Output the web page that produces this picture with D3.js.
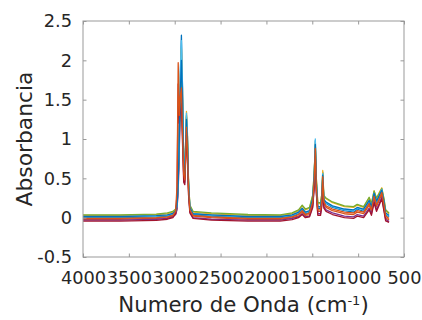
<!DOCTYPE html>
<html>
<head>
<meta charset="utf-8">
<script src="https://cdn.jsdelivr.net/npm/d3@7"></script>
<style>
  html, body { margin: 0; padding: 0; background: #fff; }
  svg { display: block; }
  text { font-family: "DejaVu Sans", "Liberation Sans", Arial, sans-serif; fill: #262626; }
</style>
</head>
<body>
<svg id="chart" width="422" height="320"></svg>
<script>
// Wavenumbers (cm-1) at which the spectra were read
const wavenumbers = [4000,3600,3200,3080,3020,2990,2975,2962,2950,2938,2927,2915,2902,2890,2880,2872,2862,2850,2835,2800,2600,2200,1850,1720,1650,1610,1575,1530,1495,1478,1467,1456,1440,1410,1396,1386,1374,1350,1280,1150,1050,1010,940,880,855,826,800,770,742,718,700,663];

// Absorbance spectra (one array per sample)
const spectrum1 = [0.00,0.00,0.01,0.02,0.04,0.07,0.14,0.45,1.10,1.85,2.32,1.65,0.70,0.55,0.95,1.30,1.05,0.45,0.12,0.04,0.02,0.00,0.00,0.02,0.05,0.10,0.05,0.07,0.22,0.55,0.98,0.45,0.12,0.12,0.25,0.58,0.22,0.18,0.13,0.09,0.07,0.11,0.08,0.20,0.12,0.30,0.19,0.28,0.35,0.18,0.04,0.01];
const spectrum2 = [-0.02,-0.02,-0.01,0.00,0.02,0.05,0.12,0.38,0.90,1.45,1.75,1.30,0.60,0.50,0.85,1.20,0.95,0.40,0.10,0.02,0.00,-0.02,-0.02,0.00,0.02,0.07,0.03,0.04,0.18,0.47,0.85,0.38,0.08,0.08,0.20,0.50,0.18,0.13,0.09,0.05,0.04,0.07,0.05,0.16,0.08,0.25,0.14,0.22,0.30,0.13,0.00,-0.03];
const spectrum3 = [0.03,0.03,0.04,0.05,0.07,0.10,0.18,0.50,1.15,1.80,2.15,1.60,0.72,0.60,1.00,1.35,1.10,0.50,0.15,0.07,0.05,0.03,0.03,0.05,0.09,0.15,0.10,0.12,0.28,0.60,0.95,0.50,0.18,0.18,0.30,0.60,0.28,0.24,0.19,0.14,0.13,0.16,0.13,0.25,0.17,0.34,0.24,0.32,0.38,0.23,0.09,0.05];
const spectrum4 = [-0.03,-0.03,-0.02,-0.01,0.01,0.04,0.10,0.35,0.85,1.60,1.50,1.05,0.50,0.45,0.80,1.10,0.85,0.35,0.08,0.00,-0.02,-0.03,-0.03,-0.01,0.01,0.05,0.01,0.02,0.15,0.42,0.80,0.33,0.05,0.05,0.17,0.47,0.14,0.10,0.06,0.02,0.01,0.04,0.02,0.12,0.05,0.21,0.10,0.18,0.26,0.10,-0.02,-0.05];
const spectrum5 = [0.035,0.035,0.045,0.06,0.08,0.11,0.19,0.48,1.05,1.60,1.90,1.45,0.68,0.58,0.95,1.28,1.05,0.48,0.16,0.08,0.06,0.04,0.035,0.06,0.10,0.16,0.11,0.13,0.29,0.60,0.92,0.50,0.19,0.19,0.30,0.56,0.28,0.25,0.20,0.15,0.14,0.17,0.14,0.26,0.18,0.34,0.25,0.31,0.37,0.24,0.10,0.06];
const spectrum6 = [0.01,0.01,0.02,0.03,0.05,0.08,0.15,0.46,1.12,1.88,2.25,1.66,0.72,0.57,0.98,1.33,1.08,0.47,0.13,0.05,0.03,0.01,0.01,0.03,0.06,0.11,0.06,0.08,0.23,0.56,1.00,0.46,0.13,0.13,0.26,0.56,0.23,0.19,0.14,0.10,0.09,0.12,0.10,0.21,0.13,0.31,0.20,0.28,0.36,0.19,0.05,0.02];
const spectrum7 = [-0.045,-0.045,-0.035,-0.02,0.00,0.05,0.30,1.70,1.20,1.35,1.45,0.95,0.45,0.42,0.75,1.05,0.80,0.30,0.06,-0.01,-0.03,-0.045,-0.045,-0.025,0.00,0.04,0.00,0.01,0.13,0.40,0.78,0.31,0.03,0.03,0.15,0.45,0.12,0.08,0.04,0.00,-0.01,0.02,0.00,0.10,0.03,0.19,0.08,0.16,0.24,0.08,-0.04,-0.06];
const spectrum8 = [0.015,0.015,0.025,0.035,0.055,0.085,0.16,0.44,1.00,1.62,2.00,1.50,0.66,0.54,0.92,1.25,1.00,0.44,0.13,0.05,0.035,0.015,0.015,0.035,0.07,0.12,0.07,0.09,0.24,0.55,0.93,0.44,0.14,0.14,0.26,0.54,0.23,0.20,0.15,0.11,0.10,0.13,0.11,0.22,0.14,0.31,0.21,0.28,0.35,0.20,0.06,0.03];
const spectrum9 = [-0.01,-0.01,0.00,0.01,0.03,0.08,0.40,1.97,1.30,1.55,1.65,1.10,0.55,0.48,0.82,1.15,0.90,0.38,0.10,0.03,0.01,-0.01,-0.01,0.01,0.04,0.09,0.04,0.06,0.20,0.50,0.88,0.40,0.10,0.10,0.22,0.52,0.20,0.15,0.11,0.07,0.06,0.09,0.07,0.18,0.10,0.27,0.16,0.24,0.32,0.16,0.02,-0.01];

const spectra = [spectrum1, spectrum2, spectrum3, spectrum4, spectrum5, spectrum6, spectrum7, spectrum8, spectrum9];
const colors = ["#0072BD","#D95319","#EDB120","#7E2F8E","#77AC30","#4DBEEE","#A2142F","#0072BD","#D95319"];

const xTicks = [4000,3500,3000,2500,2000,1500,1000,500];
const yTicks = [-0.5,0,0.5,1,1.5,2,2.5];
const yTickLabels = ["-0.5","0","0.5","1","1.5","2","2.5"];

const svg = d3.select("#chart");
const L = 83, R = 404, T = 21, B = 257;

const x = d3.scaleLinear().domain([4000, 500]).range([L, R]);
const y = d3.scaleLinear().domain([-0.5, 2.5]).range([B, T]);

const axisColor = "#999";
const tickLen = 3.5;

svg.append("defs").append("clipPath").attr("id","clip")
  .append("rect").attr("x", L).attr("y", T).attr("width", R - L).attr("height", B - T);

const line = d3.line().x((d, i) => x(wavenumbers[i])).y(d => y(d));
const g = svg.append("g").attr("clip-path", "url(#clip)");
spectra.forEach((s, k) => {
  g.append("path").datum(s)
    .attr("d", line)
    .attr("fill", "none")
    .attr("stroke", colors[k])
    .attr("stroke-width", 1.3)
    .attr("stroke-linejoin", "round");
});

function styleAxis(sel, showText) {
  sel.select(".domain").remove();
  sel.selectAll(".tick line").attr("stroke", axisColor);
  if (!showText) sel.selectAll(".tick text").remove();
  else sel.selectAll(".tick text").attr("fill", "#262626").style("font-size", "17.8px")
        .style("font-family", '"DejaVu Sans", sans-serif');
}

const xb = svg.append("g").attr("transform", `translate(0,${B})`)
  .call(d3.axisBottom(x).tickValues(xTicks).tickFormat(d3.format("d")).tickSize(-tickLen).tickPadding(14.5));
styleAxis(xb, true);

const xt = svg.append("g").attr("transform", `translate(0,${T})`)
  .call(d3.axisTop(x).tickValues(xTicks).tickSize(-tickLen));
styleAxis(xt, false);

const yl = svg.append("g").attr("transform", `translate(${L},0)`)
  .call(d3.axisLeft(y).tickValues(yTicks).tickFormat((d, i) => yTickLabels[i]).tickSize(-tickLen).tickPadding(11));
styleAxis(yl, true);

const yr = svg.append("g").attr("transform", `translate(${R},0)`)
  .call(d3.axisRight(y).tickValues(yTicks).tickSize(-tickLen));
styleAxis(yr, false);

svg.append("rect").attr("x", L).attr("y", T).attr("width", R - L).attr("height", B - T)
  .attr("fill", "none").attr("stroke", axisColor).attr("stroke-width", 1);

// x title
const xt2 = svg.append("text").attr("x", (L + R) / 2).attr("y", 312)
  .attr("text-anchor", "middle").style("font-size", "21.3px");
xt2.append("tspan").text("Numero de Onda (cm");
xt2.append("tspan").attr("baseline-shift", "super").style("font-size", "13px").text("-1");
xt2.append("tspan").text(")");

// y title
svg.append("text")
  .attr("transform", `translate(32,${(T + B) / 2}) rotate(-90)`)
  .attr("text-anchor", "middle").style("font-size", "21.8px")
  .text("Absorbancia");
</script>
</body>
</html>
